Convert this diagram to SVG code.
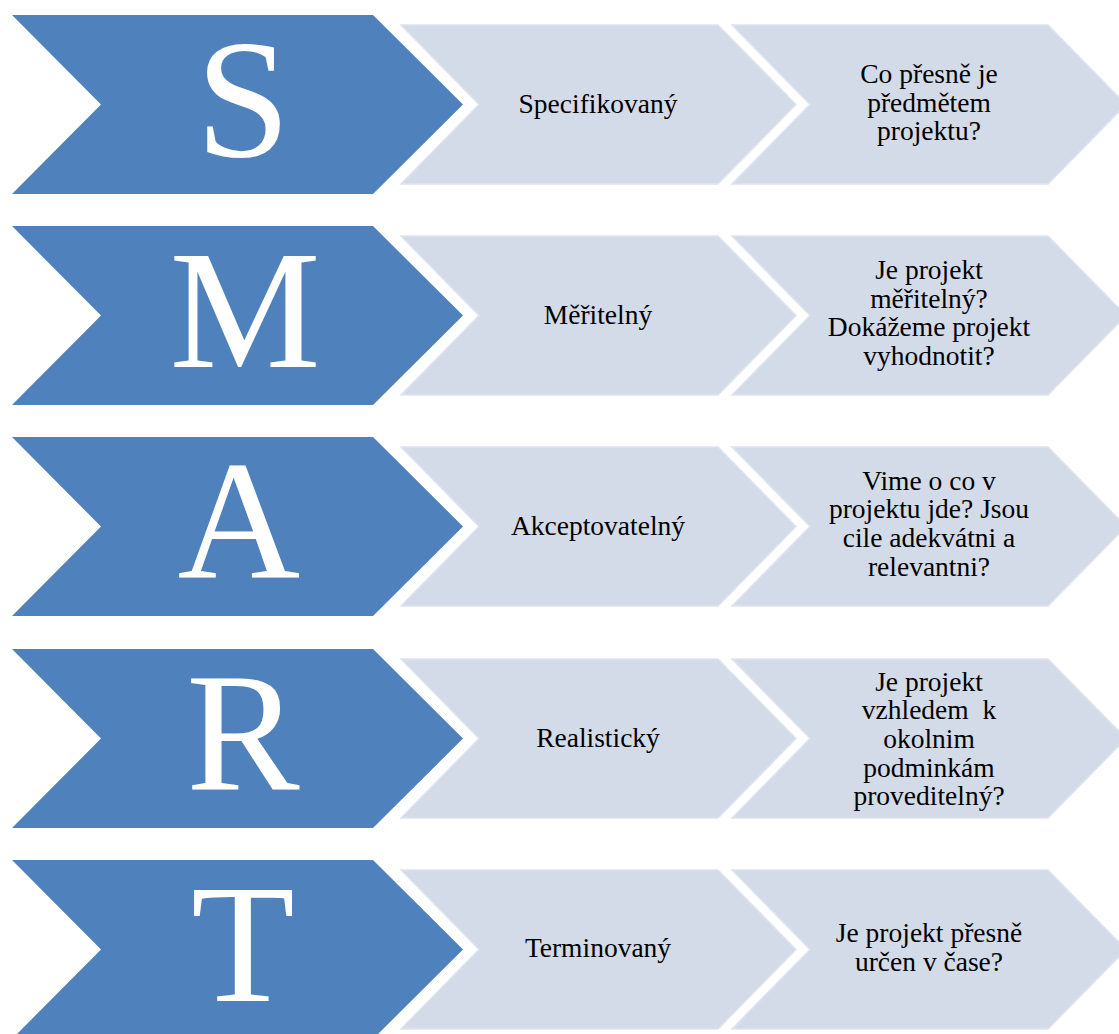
<svg xmlns="http://www.w3.org/2000/svg" xmlns:xlink="http://www.w3.org/1999/xlink" width="1119" height="1034" viewBox="0 0 1119 1034">
  <style>
    .letter { font-size: 170px; fill: #ffffff; text-anchor: middle; }
    .label { font-size: 27.5px; fill: #000000; text-anchor: middle; }
    .blue { fill: #4F81BD; }
    .light { fill: #D4DBE8; stroke: #DEE3EE; stroke-width: 1.5; }
  </style>
  <defs>
    <!-- big chevron holding the letter, origin at its top-left corner -->
    <polygon id="chev-big" points="12,0 373,0 463,89.5 373,179 12,179 101,89.5"/>
    <!-- smaller pale chevrons, first and second column -->
    <polygon id="chev-a" points="401,10 718,10 796,89.5 718,169 401,169 479,89.5"/>
    <polygon id="chev-b" points="732,10 1048,10 1126,89.5 1048,169 732,169 810,89.5"/>
  </defs>

  <rect width="1119" height="1034" fill="#ffffff"/>

  <g font-family="'Liberation Serif', 'Times New Roman', serif">
  <!-- S : Specifikovaný -->
  <g id="row-s" transform="translate(0,15)">
    <use xlink:href="#chev-big" class="blue"/>
    <use xlink:href="#chev-a" class="light"/>
    <use xlink:href="#chev-b" class="light"/>
    <text class="letter" x="243" y="141">S</text>
    <text class="label" x="598" y="98">Specifikovaný</text>
    <text class="label" x="929" y="68">Co přesně je</text>
    <text class="label" x="929" y="96.5">předmětem</text>
    <text class="label" x="929" y="125">projektu?</text>
  </g>

  <!-- M : Měřitelný -->
  <g id="row-m" transform="translate(0,226)">
    <use xlink:href="#chev-big" class="blue"/>
    <use xlink:href="#chev-a" class="light"/>
    <use xlink:href="#chev-b" class="light"/>
    <text class="letter" x="245" y="141">M</text>
    <text class="label" x="598" y="98">Měřitelný</text>
    <text class="label" x="929" y="53">Je projekt</text>
    <text class="label" x="929" y="81.5">měřitelný?</text>
    <text class="label" x="929" y="110">Dokážeme projekt</text>
    <text class="label" x="929" y="139">vyhodnotit?</text>
  </g>

  <!-- A : Akceptovatelný -->
  <g id="row-a" transform="translate(0,437)">
    <use xlink:href="#chev-big" class="blue"/>
    <use xlink:href="#chev-a" class="light"/>
    <use xlink:href="#chev-b" class="light"/>
    <text class="letter" x="239" y="141">A</text>
    <text class="label" x="598" y="98">Akceptovatelný</text>
    <text class="label" x="929" y="52.5">Vime o co v</text>
    <text class="label" x="929" y="81">projektu jde? Jsou</text>
    <text class="label" x="929" y="110">cile adekvátni a</text>
    <text class="label" x="929" y="139">relevantni?</text>
  </g>

  <!-- R : Realistický -->
  <g id="row-r" transform="translate(0,649)">
    <use xlink:href="#chev-big" class="blue"/>
    <use xlink:href="#chev-a" class="light"/>
    <use xlink:href="#chev-b" class="light"/>
    <text class="letter" x="243" y="141">R</text>
    <text class="label" x="598" y="98">Realistický</text>
    <text class="label" x="929" y="42">Je projekt</text>
    <text class="label" x="929" y="70" xml:space="preserve">vzhledem  k</text>
    <text class="label" x="929" y="98.5">okolnim</text>
    <text class="label" x="929" y="127.5">podminkám</text>
    <text class="label" x="929" y="156">proveditelný?</text>
  </g>

  <!-- T : Terminovaný -->
  <g id="row-t" transform="translate(0,860)">
    <use xlink:href="#chev-big" class="blue"/>
    <use xlink:href="#chev-a" class="light"/>
    <use xlink:href="#chev-b" class="light"/>
    <text class="letter" x="243" y="141">T</text>
    <text class="label" x="598" y="97">Terminovaný</text>
    <text class="label" x="929" y="82">Je projekt přesně</text>
    <text class="label" x="929" y="111">určen v čase?</text>
  </g>
  </g>
</svg>
